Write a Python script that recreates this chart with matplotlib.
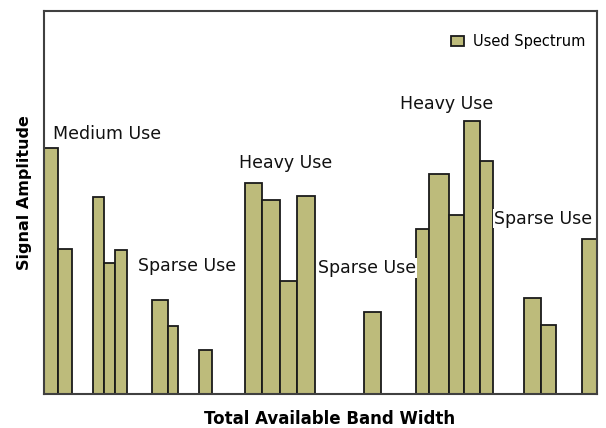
import matplotlib
matplotlib.use("Agg")
import matplotlib.pyplot as plt

# Band edges (arbitrary frequency units, 0-100) and signal amplitudes
band_left = [0.00, 2.47, 8.86, 10.80, 12.90, 19.59, 22.37, 28.08, 36.40, 39.47, 42.73,
             45.80, 57.92, 67.22, 69.68, 73.29, 76.00, 78.84, 86.74, 89.82, 97.29]
band_right = [2.47, 5.01, 10.80, 12.90, 14.96, 22.37, 24.29, 30.32, 39.47, 42.73, 45.80,
              49.01, 60.89, 69.68, 73.29, 76.00, 78.84, 81.25, 89.82, 92.59, 100.00]
amplitude = [64.3, 37.9, 51.4, 34.2, 37.5, 24.6, 17.7, 11.5, 55.1, 50.7, 29.4,
             51.7, 21.3, 43.0, 57.4, 46.7, 71.2, 60.9, 25.0, 18.0, 40.4]

annot_text = ["Medium Use", "Sparse Use", "Heavy Use", "Sparse Use", "Heavy Use", "Sparse Use"]
annot_x = [1.6, 17.0, 35.2, 49.6, 64.3, 81.4]
annot_y = [68.0, 33.4, 60.4, 32.9, 75.7, 45.8]
annot_bg = [False, False, False, True, False, True]

series_name = "Used Spectrum"
x_label = "Total Available Band Width"
y_label = "Signal Amplitude"

bar_color = "#bdbb7b"
font = ["DejaVu Sans"]

fig = plt.figure(figsize=(6.06, 4.28), dpi=100)
ax = fig.add_axes([44 / 606, 34 / 428, 553 / 606, 383 / 428])

widths = [r - l for l, r in zip(band_left, band_right)]
ax.bar(band_left, amplitude, width=widths, align="edge", color=bar_color,
       edgecolor="#1a1a1a", linewidth=1.3, label=series_name, zorder=2)

ax.set_xlim(0, 100)
ax.set_ylim(0, 100)
ax.set_xticks([])
ax.set_yticks([])
for s in ax.spines.values():
    s.set_color("#404040")
    s.set_linewidth(1.5)
    s.set_zorder(5)

for t, x, y, bg in zip(annot_text, annot_x, annot_y, annot_bg):
    kw = {}
    if bg:
        kw["bbox"] = dict(facecolor="white", edgecolor="none", pad=0.5)
    ax.text(x, y, t, fontsize=12.5, family=font, color="#111111",
            ha="left", va="center", zorder=4, clip_on=True, **kw)

ax.set_xlabel(x_label, fontsize=12, fontweight="bold", family=font)
ax.set_ylabel(y_label, fontsize=11.5, fontweight="bold", family=font)
ax.xaxis.set_label_coords(0.517, -0.041)
ax.yaxis.set_label_coords(-0.021, 0.526)

leg = ax.legend(loc="upper right", frameon=False, prop={"family": font, "size": 10.5},
                handlelength=0.9, handleheight=0.6, handletextpad=0.6,
                bbox_to_anchor=(0.997, 0.966), borderaxespad=0.3)

fig.savefig("out.png", dpi=100)
